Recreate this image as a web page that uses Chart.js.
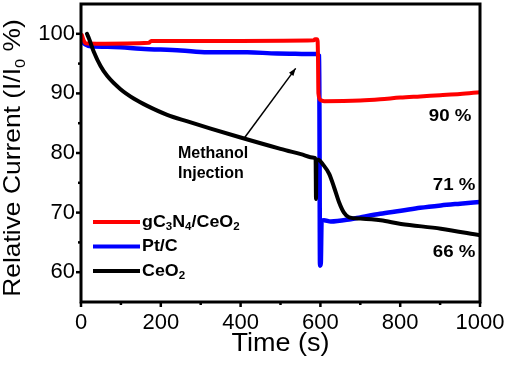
<!DOCTYPE html>
<html>
<head>
<meta charset="utf-8">
<script src="https://cdn.jsdelivr.net/npm/chart.js@4.4.0/dist/chart.umd.min.js"></script>
<style>
  html, body { margin: 0; padding: 0; background: #fff; }
  canvas { display: block; }
</style>
</head>
<body>
<canvas id="chart" width="510" height="365"></canvas>
<script>
// Chronoamperometry data (time in s, relative current in %)

const tRed = [2, 6, 12, 40, 170, 176, 400, 584, 586, 591, 593, 594, 595, 600, 610, 700, 750, 800, 850, 900, 950, 1000];
const vRed = [99.8, 99.0, 98.4, 98.35, 98.5, 98.8, 98.8, 98.9, 99.1, 99.1, 98.8, 96.0, 90.0, 88.9, 88.7, 88.8, 89.0, 89.3, 89.5, 89.7, 89.9, 90.2];

const tBlue = [1, 5, 12, 24, 82, 150, 250, 317, 417, 492, 588, 597, 599, 601, 603, 609, 626, 676, 700, 750, 802, 850, 902, 950, 1000];
const vBlue = [99.3, 98.6, 98.2, 97.9, 97.8, 97.5, 97.2, 96.9, 96.9, 96.7, 96.6, 96.3, 61.1, 61.5, 68.6, 68.7, 68.5, 68.9, 69.2, 69.8, 70.3, 70.8, 71.2, 71.5, 71.8];

const tBlack = [15, 20, 32, 49, 66, 99, 133, 166, 216, 267, 325, 400, 500, 551, 584, 588, 589, 590, 597, 605, 622, 634, 647, 659, 672, 700, 751, 802, 902, 1000];
const vBlack = [100, 99.2, 97.0, 94.6, 92.9, 90.7, 89.1, 87.9, 86.4, 85.3, 84.1, 82.6, 80.7, 79.8, 79.2, 79.0, 72.3, 78.9, 78.8, 78.2, 76.5, 74.3, 71.7, 70.0, 69.2, 69.0, 68.7, 68.1, 67.3, 66.2];

const xTicks = [0, 200, 400, 600, 800, 1000];
const yTicks = [60, 70, 80, 90, 100];

// end-of-run retention labels: [text, time, value]
const endLabels = [['90 %', 925, 86.1], ['71 %', 935, 74.5], ['66 %', 935, 63.3]];
// arrow from the note up to the injection point
const arrowFrom = [408, 82.4];
const arrowTo = [538, 94.2];

const toPoints = (ts, vs) => ts.map((t, i) => ({ x: t, y: vs[i] }));

// text with subscripts: parts = [[text, isSub], ...]
function richText(ctx, parts, x, y, size, bold, align, sx) {
  const w = bold ? 'bold ' : '';
  const base = w + size + 'px Arial';
  const sub = w + Math.round(size * 0.62) + 'px Arial';
  let total = 0;
  parts.forEach(p => { ctx.font = p[1] ? sub : base; total += ctx.measureText(p[0]).width; });
  ctx.save();
  ctx.translate(x, y);
  ctx.scale(sx || 1, 1);
  let cx = align === 'center' ? -total / 2 : 0;
  ctx.textBaseline = 'middle';
  ctx.textAlign = 'left';
  ctx.fillStyle = '#000';
  parts.forEach(p => {
    ctx.font = p[1] ? sub : base;
    ctx.fillText(p[0], cx, p[1] ? size * 0.32 : 0);
    cx += ctx.measureText(p[0]).width;
  });
  ctx.restore();
}

const extras = {
  id: 'extras',
  afterDraw(chart) {
    const ctx = chart.ctx;
    const a = chart.chartArea;
    const xs = chart.scales.x, ys = chart.scales.y;
    ctx.save();
    ctx.strokeStyle = '#000';
    ctx.lineCap = 'butt';

    // ticks (major + minor), pointing outward
    ctx.lineWidth = 2.5;
    for (let v = 0; v <= 1000; v += 100) {
      const px = xs.getPixelForValue(v);
      const len = v % 200 === 0 ? 5 : 3;
      ctx.beginPath(); ctx.moveTo(px, a.bottom); ctx.lineTo(px, a.bottom + len); ctx.stroke();
    }
    for (let v = 60; v <= 100; v += 5) {
      const py = ys.getPixelForValue(v);
      const len = v % 10 === 0 ? 5 : 3;
      ctx.beginPath(); ctx.moveTo(a.left, py); ctx.lineTo(a.left - len, py); ctx.stroke();
    }

    // frame
    ctx.lineWidth = 3;
    ctx.strokeRect(a.left, a.top, a.right - a.left, a.bottom - a.top);

    // legend
    const items = [
      { color: '#ff0000', parts: [['gC'], ['3', 1], ['N'], ['4', 1], ['/CeO'], ['2', 1]] },
      { color: '#0000ff', parts: [['Pt/C']] },
      { color: '#000000', parts: [['CeO'], ['2', 1]] }
    ];
    items.forEach((it, i) => {
      const y = 222 + i * 24.5;
      ctx.strokeStyle = it.color;
      ctx.lineWidth = 4;
      ctx.beginPath(); ctx.moveTo(93, y); ctx.lineTo(140, y); ctx.stroke();
      richText(ctx, it.parts, 142, y, 17, true, 'left', 1.05);
    });

    // annotations
    endLabels.forEach(l => {
      richText(ctx, [[l[0]]], xs.getPixelForValue(l[1]), ys.getPixelForValue(l[2]), 17, true, 'center', 1.1);
    });
    richText(ctx, [['Methanol']], 178, 154, 16, true, 'left', 1);
    richText(ctx, [['Injection']], 178, 174, 16, true, 'left', 1);

    // arrow
    const x0 = xs.getPixelForValue(arrowFrom[0]), y0 = ys.getPixelForValue(arrowFrom[1]);
    const x1 = xs.getPixelForValue(arrowTo[0]), y1 = ys.getPixelForValue(arrowTo[1]);
    ctx.strokeStyle = '#000';
    ctx.fillStyle = '#000';
    ctx.lineWidth = 1.5;
    ctx.beginPath(); ctx.moveTo(x0, y0); ctx.lineTo(x1, y1); ctx.stroke();
    const ang = Math.atan2(y1 - y0, x1 - x0);
    ctx.beginPath();
    ctx.moveTo(x1, y1);
    ctx.lineTo(x1 - 8 * Math.cos(ang - 0.35), y1 - 8 * Math.sin(ang - 0.35));
    ctx.lineTo(x1 - 8 * Math.cos(ang + 0.35), y1 - 8 * Math.sin(ang + 0.35));
    ctx.closePath(); ctx.fill();

    // axis titles
    richText(ctx, [['Time (s)']], (a.left + a.right) / 2, 344, 25, false, 'center', 1.08);
    ctx.save();
    ctx.translate(13, 158);
    ctx.rotate(-Math.PI / 2);
    richText(ctx, [['Relative Current (I/I'], ['0', 1], [' %)']], 0, 0, 24, false, 'center', 1.1);
    ctx.restore();

    ctx.restore();
  }
};

new Chart(document.getElementById('chart').getContext('2d'), {
  type: 'line',
  data: {
    datasets: [
      { label: 'gC3N4/CeO2', data: toPoints(tRed, vRed), borderColor: '#ff0000', borderWidth: 4, order: 1 },
      { label: 'Pt/C', data: toPoints(tBlue, vBlue), borderColor: '#0000ff', borderWidth: 4.5, order: 2 },
      { label: 'CeO2', data: toPoints(tBlack, vBlack), borderColor: '#000000', borderWidth: 4, order: 0 }
    ]
  },
  options: {
    responsive: false,
    animation: false,
    devicePixelRatio: 1,
    layout: { padding: { top: 4, right: 30, left: 0, bottom: 0 } },
    elements: {
      point: { radius: 0 },
      line: { cubicInterpolationMode: 'monotone', borderCapStyle: 'round', borderJoinStyle: 'round' }
    },
    plugins: { legend: { display: false }, tooltip: { enabled: false } },
    scales: {
      x: {
        type: 'linear', min: 0, max: 1000,
        afterBuildTicks: s => { s.ticks = xTicks.map(v => ({ value: v })); },
        afterFit: s => { s.height = 63; s.paddingLeft = 0; s.paddingRight = 0; },
        grid: { display: false, drawTicks: false },
        border: { display: false },
        ticks: { color: '#000', font: { family: 'Arial', size: 22 }, padding: 8, maxRotation: 0, callback: v => String(v) }
      },
      y: {
        type: 'linear', min: 55, max: 105,
        afterBuildTicks: s => { s.ticks = yTicks.map(v => ({ value: v })); },
        afterFit: s => { s.width = 81; s.paddingTop = 0; s.paddingBottom = 0; },
        grid: { display: false, drawTicks: false },
        border: { display: false },
        ticks: { color: '#000', font: { family: 'Arial', size: 22 }, padding: 6, callback: v => String(v) }
      }
    }
  },
  plugins: [extras]
});
</script>
</body>
</html>
